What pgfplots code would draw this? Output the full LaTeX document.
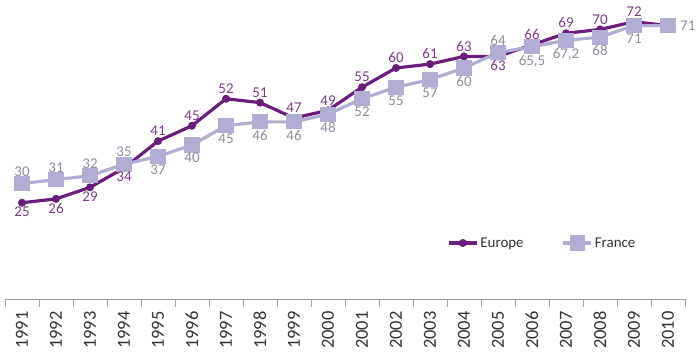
\documentclass[border=0pt]{standalone}
\usepackage{pgfplots}
\pgfplotsset{compat=1.18}
\usepackage{pgfplotstable}
\usepackage{fontspec}
\setmainfont{Carlito}
\definecolor{eur}{HTML}{6A1E7C}
\definecolor{fra}{HTML}{B2AED3}
\definecolor{eurtxt}{HTML}{7B3C88}
\definecolor{fratxt}{HTML}{8E8E9E}
\definecolor{axgray}{HTML}{A0A0A0}
\definecolor{txt}{HTML}{333333}
\pgfplotstableread{
x y
1 25
2 26
3 29
4 34
5 41
6 45
7 52
8 51
9 47
10 49
11 55
12 60
13 61
14 63
15 63
16 66
17 69
18 70
19 72
20 71
}\europe
\pgfplotstableread{
x y
1 30
2 31
3 32
4 35
5 37
6 40
7 45
8 46
9 46
10 48
11 52
12 55
13 57
14 60
15 64
16 65.5
17 67.2
18 68
19 71
20 71
}\france
\pgfplotstableread{
x y lab
1 25 25
2 26 26
3 29 29
4 34 34
15 63 63
}\eurbelow
\pgfplotstableread{
x y lab
5 41 41
6 45 45
7 52 52
8 51 51
9 47 47
10 49 49
11 55 55
12 60 60
13 61 61
14 63 63
16 66 66
17 69 69
18 70 70
19 72 72
}\eurabove
\pgfplotstableread{
x y lab
1 30 30
2 31 31
3 32 32
4 35 35
15 64 64
}\fraabove
\pgfplotstableread{
x y lab
5 37 37
6 40 40
7 45 45
8 46 46
9 46 46
10 48 48
11 52 52
12 55 55
13 57 57
14 60 60
16 65.5 {65,5}
17 67.2 {67,2}
18 68 68
19 71 71
}\frabelow
\pgfplotstableread{
x y lab
20 71 71
}\fraright
\begin{document}
\begin{tikzpicture}
\useasboundingbox (0,0) rectangle (696bp,356bp);
\begin{axis}[
  at={(5bp,57bp)}, anchor=south west,
  scale only axis, width=680bp, height=296.5bp,
  xmin=0.5, xmax=20.5, ymin=0, ymax=77,
  axis x line*=bottom, axis y line=none,
  axis line style={axgray, line width=0.8bp},
  xtick={1,...,20},
  xticklabels={1991,1992,1993,1994,1995,1996,1997,1998,1999,2000,2001,2002,2003,2004,2005,2006,2007,2008,2009,2010},
  major tick length=0pt,
  minor xtick={0.5,1.5,...,20.5},
  minor tick length=8bp,
  tick align=outside,
  minor tick style={axgray, line width=0.8bp},
  x tick label style={rotate=90, anchor=east, font=\fontsize{18.5}{18.5}\selectfont, text=txt, xshift=-9bp},
  clip=false,
  legend style={at={(0.650,0.189)}, anchor=west, draw=none, fill=none,
    legend columns=2, font=\fontsize{15}{15}\selectfont, text=txt,
    /tikz/every even column/.append style={column sep=36bp},
    inner sep=0pt},
  legend image code/.code={
    \draw[#1, mark repeat=2, mark phase=2] plot coordinates {(0bp,0bp) (14bp,0bp) (28bp,0bp)};
  },
  lbl/.style={forget plot, draw=none, mark=none, nodes near coords, point meta=explicit symbolic,
    every node near coord/.append style={font=\fontsize{15}{15}\selectfont, inner sep=3bp}},
]
\addplot[eur, line width=3.2bp, mark=*, mark size=2.3bp]
  table[x=x, y=y] {\europe};
\addlegendentry{Europe}
\addplot[fra, line width=3.2bp, mark=square*, mark size=6bp]
  table[x=x, y=y] {\france};
\addlegendentry{France}
\addplot[lbl, every node near coord/.append style={anchor=south, text=eurtxt, yshift=2bp}]
  table[x=x, y=y, meta=lab] {\eurabove};
\addplot[lbl, every node near coord/.append style={anchor=north, text=eurtxt, yshift=-1bp}]
  table[x=x, y=y, meta=lab] {\eurbelow};
\addplot[lbl, every node near coord/.append style={anchor=south, text=fratxt, yshift=4bp}]
  table[x=x, y=y, meta=lab] {\fraabove};
\addplot[lbl, every node near coord/.append style={anchor=north, text=fratxt, yshift=-5bp}]
  table[x=x, y=y, meta=lab] {\frabelow};
\addplot[lbl, every node near coord/.append style={anchor=west, text=fratxt, xshift=9bp}]
  table[x=x, y=y, meta=lab] {\fraright};
\end{axis}
\end{tikzpicture}
\end{document}
